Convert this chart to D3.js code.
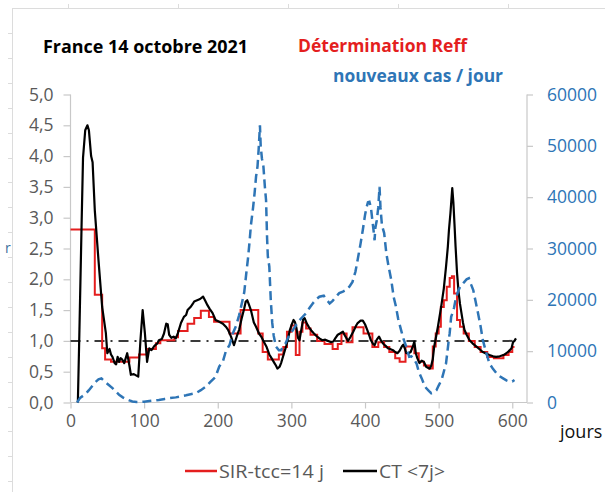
<!DOCTYPE html>
<html><head><meta charset="utf-8">
<script src="https://cdn.jsdelivr.net/npm/d3@7/dist/d3.min.js"></script>
<style>body{margin:0;background:#fff}svg{display:block}</style>
</head><body><svg id="c" width="605" height="492"></svg>
<script>
// ---- DATA ----
const redDays=[0,33,43,47,55,80,93,104,116,122,141,146,159,168,177,188,195,216,231,255,261,268,283,289,294,300,306,311,315,320,326,335,345,356,363,368,375,383,398,410,418,426,433,441,447,455,464,467,473,480,487,492,496,500,503,507,511,515,518,521,525,529,534,541,549,557,566,575,588,595,600,603];
const redVals=[2.81,1.75,0.88,0.70,0.66,0.73,0.78,0.87,0.96,1.01,1.06,1.16,1.28,1.37,1.49,1.39,1.31,1.12,1.5,1.12,0.82,0.7,0.78,0.9,1.15,1.25,0.77,1.15,1.3,1.2,1.1,1.0,0.95,0.87,0.95,1.12,0.98,1.22,1.12,0.9,0.98,0.9,0.82,0.72,0.66,0.91,0.9,0.8,0.66,0.6,0.55,0.91,1.12,1.23,1.55,1.66,1.88,2.02,2.05,1.77,1.34,1.23,1.12,1.0,0.9,0.82,0.74,0.72,0.77,0.82,0.9,0.9];

const ctDays=[10,12,15,17,20,23,25,28,30,33,38,43,48,50,53,55,57,60,62,64,66,68,70,73,75,77,80,82,86,89,92,95,98,101,104,107,110,114,118,120,124,127,130,132,134,137,140,143,146,150,154,157,159,163,166,168,172,176,180,183,186,189,193,197,202,207,211,214,218,222,226,229,233,236,238,240,242,245,249,252,256,259,262,266,270,273,277,279,281,284,286,290,293,295,298,300,303,305,307,309,311,313,316,318,321,324,327,330,334,338,342,346,350,354,357,360,363,366,370,373,377,380,384,388,390,394,397,400,403,406,408,411,413,416,419,422,425,428,431,434,438,441,444,447,450,452,454,456,459,462,465,467,469,471,474,477,480,483,486,488,490,492,494,497,499,502,504,507,510,512.5,514,516,518.5,520,521.5,523,525,527,529,531,533,535,538,542,546,551,556,560,565,569,574,578,583,588,592,595,599,601,603,605];
const ctVals=[0,1.1,2.85,3.97,4.42,4.5,4.42,4.0,3.9,3.12,2.31,1.55,1.13,0.8,0.87,0.78,0.74,0.64,0.62,0.74,0.66,0.72,0.7,0.64,0.72,0.8,0.6,0.45,0.46,0.44,0.42,1.01,1.5,1.13,0.66,0.88,0.85,0.92,0.96,1.01,1.03,1.12,1.28,1.27,1.1,1.05,1.07,1.04,1.13,1.29,1.39,1.42,1.5,1.55,1.6,1.64,1.66,1.68,1.72,1.65,1.58,1.52,1.45,1.34,1.31,1.28,1.23,1.18,1.07,0.93,1.08,1.18,1.39,1.53,1.64,1.66,1.6,1.5,1.3,1.23,1.12,1.07,1.0,0.91,0.78,0.72,0.64,0.6,0.55,0.58,0.64,0.8,0.92,1.01,1.18,1.25,1.34,1.3,1.2,1.05,1.01,1.15,1.35,1.37,1.28,1.22,1.17,1.13,1.08,1.04,1.01,1.02,1.0,0.98,0.99,1.05,1.1,1.12,1.15,1.08,1.0,1.06,1.15,1.25,1.29,1.33,1.33,1.27,1.18,1.08,1.01,0.95,0.93,1.02,1.07,1.0,0.95,0.92,0.88,0.87,0.85,0.82,0.8,0.84,0.91,0.94,0.88,0.8,0.8,0.82,0.91,0.99,0.8,0.72,0.64,0.68,0.66,0.58,0.56,0.55,0.6,0.7,0.91,1.1,1.23,1.45,1.6,1.85,2.2,2.53,2.8,3.07,3.48,3.25,2.9,2.53,2.1,1.8,1.6,1.45,1.3,1.18,1.1,1.01,0.96,0.91,0.86,0.82,0.79,0.77,0.75,0.74,0.75,0.77,0.8,0.83,0.88,0.98,1.0,1.04];

const casDays=[9,13,20,25,30,34,38,42,47,52,57,62,66,71,75,80,84,90,95,100,107,114,120,128,135,143,150,157,163,170,177,184,190,197,202,207,211,216,220,225,229,233,236,239,241,243,245,248,250,252,254,255.5,257.3,258.3,260,262,264,265.6,267,268,270,272,274,276,279,283,286,289,292,296,302,306,311,316,320,325,329,333,338,344,348,352,356,360,365,370,374,379,383,387,390,394,397,400,402,404,406,408,410,412,413,414,416,418,419.7,421,423,426,429,432,435.6,439,442,445,449,452,456,460,463,466,470,473,477,480,483,487,490,494,497,500,504,507,510,512,514,515,517,519,521,523,526,529,532,535,538,541,544,547,550,553.5,557,560,564,569,574,578.5,583,587.5,592,596.6,600,603];
const casVals=[0,900,1600,2400,3300,4000,4500,4700,4000,3400,2800,2100,1500,1000,700,400,200,100,100,150,300,400,500,700,850,1000,1200,1400,1600,1800,2400,3100,4000,5000,7000,8000,10000,11200,13300,15000,17000,19500,21500,25500,28000,31000,34500,38000,40750,44000,46000,49200,54000,50000,47500,46000,42000,39400,32000,28500,26500,20000,15500,13000,10900,10200,10200,11000,11500,12800,14100,15000,16000,16800,17400,18500,19300,20000,20600,20800,20000,19300,19800,20500,21300,21600,21900,22600,23500,25500,27800,31000,33600,36500,38000,39000,39100,38000,35500,33000,31600,34000,35500,38000,42000,38000,34500,33000,29000,26500,23900,20500,18700,16300,14100,12500,10900,8900,9000,8500,7600,6000,4700,3600,2800,2200,1800,2000,2400,3300,4400,6000,7600,10000,12500,13500,16700,17500,18500,20000,21500,22500,23000,23500,24000,24200,23000,21900,19800,17400,14800,12200,10000,7600,6500,5700,5100,4700,4300,4050,4100,4400];

const refLine=[{d:0,v:1},{d:604,v:1}];
const leftTicks=[0,0.5,1,1.5,2,2.5,3,3.5,4,4.5,5];
const rightTicks=[0,10000,20000,30000,40000,50000,60000];
const xTicks=[0,100,200,300,400,500,600];
const titleMain="France 14 octobre 2021";
const titleRed="Détermination Reff";
const titleBlue="nouveaux cas / jour";
const legendLabels=["SIR-tcc=14 j","CT <7j>"];

// ---- CHART ----
const svg=d3.select("#c");
svg.append("rect").attr("width",605).attr("height",492).attr("fill","#fff");
const FONT="'Open Sans', 'DejaVu Sans', sans-serif";
const BLUE="#2e75b6", RED="#e41e1e", GRAY="#595959", AX="#c8c8c8";

// faint background frame (from underlying sheet)
const frame=svg.append("g").attr("stroke","#dcdcdc").attr("stroke-width",1).attr("fill","none");
frame.append("line").attr("x1",12).attr("x2",605).attr("y1",8.5).attr("y2",8.5);
frame.append("line").attr("x1",12.5).attr("x2",12.5).attr("y1",8).attr("y2",492);
d3.range(68,605,110).forEach(x=>frame.append("line").attr("x1",x+.5).attr("x2",x+.5).attr("y1",4).attr("y2",8.5));
d3.range(33,492,24.9).forEach(y=>frame.append("line").attr("x1",8).attr("x2",12.5).attr("y1",Math.round(y)+.5).attr("y2",Math.round(y)+.5));
svg.append("text").attr("x",5).attr("y",253).attr("font-family",FONT).attr("font-size",14).attr("fill","#3a6f9c").text("r");

const x=d3.scaleLinear().domain([0,620]).range([70.5,527]);
const yL=d3.scaleLinear().domain([0,5]).range([402.5,94.5]);
const yR=d3.scaleLinear().domain([0,60000]).range([402.5,94.5]);

// axes
const gx=svg.append("g").attr("transform","translate(0,402.5)")
  .call(d3.axisBottom(x).tickValues(xTicks).tickSize(6).tickPadding(10).tickFormat(d3.format("d")));
const gl=svg.append("g").attr("transform","translate(70.5,0)")
  .call(d3.axisLeft(yL).tickValues(leftTicks).tickSize(7).tickPadding(10).tickFormat(d=>d3.format(".1f")(d).replace(".",",")));
const gr=svg.append("g").attr("transform","translate(527,0)")
  .call(d3.axisRight(yR).tickValues(rightTicks).tickSize(6).tickPadding(14).tickFormat(d3.format("d")));
[gx,gl,gr].forEach(g=>{
  g.select(".domain").attr("stroke",AX).attr("stroke-width",1.2);
  g.selectAll(".tick line").attr("stroke",AX).attr("stroke-width",1.2);
  g.selectAll("text").attr("font-family",FONT).attr("font-size",17.5).attr("fill",GRAY);
});
gx.select(".domain").attr("d","M70.5,0H527");
gl.select(".domain").attr("d","M0,94.5V402.5");
gr.select(".domain").attr("d","M0,94.5V402.5");
gr.selectAll("text").attr("fill",BLUE);
gx.selectAll("text").attr("dy","0.5em");

svg.append("text").attr("x",560).attr("y",438).attr("font-family",FONT).attr("font-size",18).attr("fill","#111").text("jours");

// reference line R=1
svg.append("path").datum(refLine)
  .attr("d",d3.line().x(d=>x(d.d)).y(d=>yL(d.v)))
  .attr("fill","none").attr("stroke","#3a3a3a").attr("stroke-width",2).attr("stroke-dasharray","10,6,2,6");

// red step line
const redData=redDays.map((d,i)=>({d,v:redVals[i]}));
svg.append("path").datum(redData)
  .attr("d",d3.line().x(d=>x(d.d)).y(d=>yL(d.v)).curve(d3.curveStepAfter))
  .attr("fill","none").attr("stroke",RED).attr("stroke-width",2);

// black CT
const ctData=ctDays.map((d,i)=>({d,v:ctVals[i]}));
svg.append("path").datum(ctData)
  .attr("d",d3.line().x(d=>x(d.d)).y(d=>yL(d.v)))
  .attr("fill","none").attr("stroke","#000").attr("stroke-width",2.2).attr("stroke-linejoin","round");

// blue dashed cases
const casData=casDays.map((d,i)=>({d,v:casVals[i]}));
svg.append("path").datum(casData)
  .attr("d",d3.line().x(d=>x(d.d)).y(d=>yR(d.v)))
  .attr("fill","none").attr("stroke",BLUE).attr("stroke-width",2.5).attr("stroke-dasharray","9,5");

// titles
svg.append("text").attr("x",43).attr("y",53).attr("font-family",FONT).attr("font-weight","bold").attr("font-size",18)
  .attr("fill","#000").attr("textLength",205).attr("lengthAdjust","spacingAndGlyphs").text(titleMain);
svg.append("text").attr("x",298).attr("y",52).attr("font-family",FONT).attr("font-weight","bold").attr("font-size",18)
  .attr("fill",RED).attr("textLength",169).attr("lengthAdjust","spacingAndGlyphs").text(titleRed);
svg.append("text").attr("x",333).attr("y",82).attr("font-family",FONT).attr("font-weight","bold").attr("font-size",18)
  .attr("fill",BLUE).attr("textLength",170).attr("lengthAdjust","spacingAndGlyphs").text(titleBlue);

// legend
const leg=[{c:RED,x1:185,x2:217,tx:219,tl:105},{c:"#000",x1:343,x2:377,tx:379,tl:66}];
leg.forEach((l,i)=>{
  svg.append("line").attr("x1",l.x1).attr("x2",l.x2).attr("y1",471).attr("y2",471).attr("stroke",l.c).attr("stroke-width",2.5);
  svg.append("text").attr("x",l.tx).attr("y",477.5).attr("font-family",FONT).attr("font-size",18.5).attr("fill",GRAY)
    .attr("textLength",l.tl).attr("lengthAdjust","spacingAndGlyphs").text(legendLabels[i]);
});
</script></body></html>
